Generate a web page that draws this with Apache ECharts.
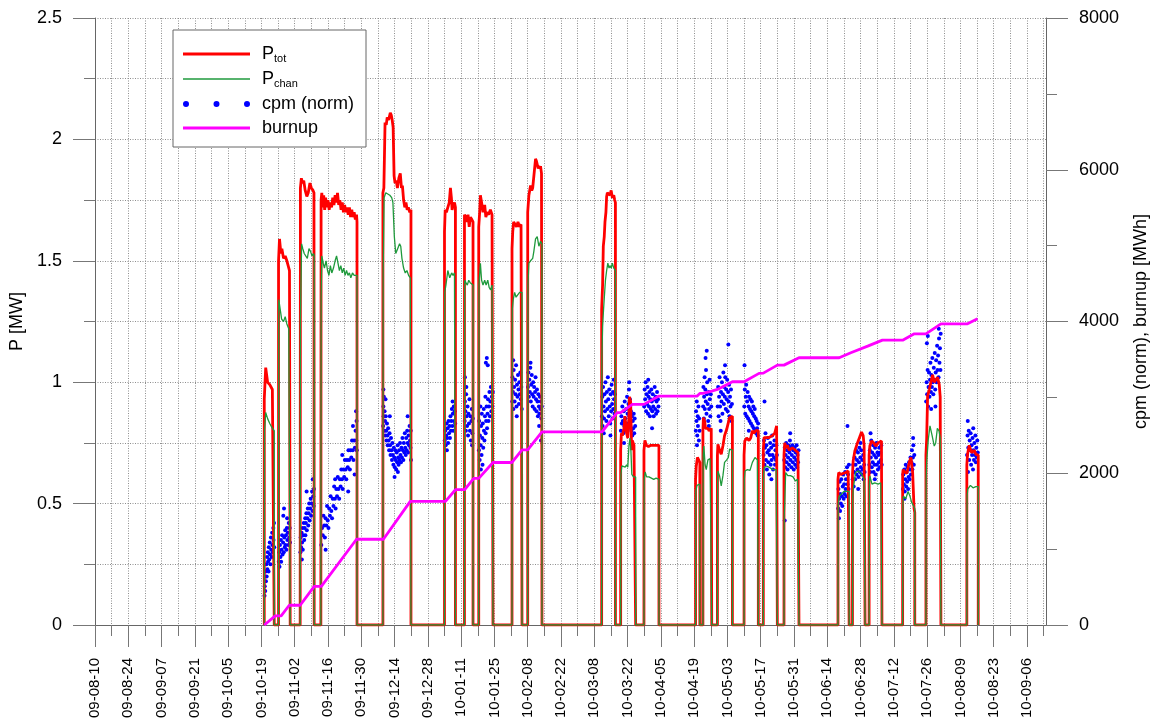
<!DOCTYPE html>
<html>
<head>
<meta charset="utf-8">
<script src="https://cdn.jsdelivr.net/npm/echarts@6/dist/echarts.min.js"></script>
<style>
  html, body { margin: 0; padding: 0; background: #fff; }
  #chart { width: 1151px; height: 726px; }
</style>
</head>
<body>
<div id="chart"></div>
<script>
// x values are days since 09-08-10

var dayLabels = ['09-08-10', '09-08-24', '09-09-07', '09-09-21', '09-10-05', '09-10-19', '09-11-02',
    '09-11-16', '09-11-30', '09-12-14', '09-12-28', '10-01-11', '10-01-25', '10-02-08', '10-02-22',
    '10-03-08', '10-03-22', '10-04-05', '10-04-19', '10-05-03', '10-05-17', '10-05-31', '10-06-14',
    '10-06-28', '10-07-12', '10-07-26', '10-08-09', '10-08-23', '10-09-06'];

// P_tot [MW]
var pTot = [
    [71.2,0],[71.2,0.93],[71.8,1.06],[72.6,1.0],[73.5,0.99],[74.6,0.97],[75.4,0.97],[75.4,0],
    [77.2,0],[77.2,1.5],[77.6,1.59],[78.2,1.53],[78.6,1.55],[79.3,1.51],[80,1.52],[80.7,1.5],[81.3,1.5],[81.8,1.46],[82.1,1.46],[82.1,0],
    [86.3,0],[86.4,1.80],[86.8,1.84],[87.3,1.82],[87.8,1.83],[88.4,1.79],[89.1,1.765],[89.7,1.78],[90.4,1.82],[91,1.80],[91.7,1.79],[92.1,1.78],[92.2,0],
    [95,0],[95.1,1.75],[95.4,1.78],[95.8,1.72],[96.2,1.77],[96.6,1.71],[97,1.76],[97.5,1.72],[98,1.75],[98.5,1.71],[99,1.74],[99.5,1.72],[100,1.76],[100.5,1.73],[101,1.77],[101.5,1.74],[102,1.78],[102.5,1.73],[103,1.75],[103.5,1.71],[104,1.74],[104.5,1.70],[105,1.73],[105.5,1.70],[106,1.72],[106.5,1.69],[107,1.72],[107.5,1.68],[108,1.71],[108.5,1.68],[109,1.70],[109.5,1.67],[110,1.69],[110.2,1.66],[110.2,0],
    [121.1,0],[121.1,1.78],[121.5,1.80],[122,2.07],[122.5,2.06],[122.9,2.09],[123.5,2.08],[124.2,2.11],[124.6,2.10],[125,2.08],[125.4,2.05],[125.8,1.85],[126.2,1.82],[126.7,1.83],[127.2,1.80],[127.8,1.84],[128.4,1.86],[128.9,1.80],[129.3,1.81],[129.8,1.75],[130.3,1.72],[130.8,1.74],[131.3,1.71],[131.8,1.72],[132.4,1.70],[132.9,1.71],[132.9,0],
    [147,0],[147,1.62],[147.3,1.71],[147.8,1.70],[148.4,1.72],[149,1.74],[149.5,1.80],[149.9,1.76],[150.2,1.71],[150.7,1.73],[151.2,1.74],[151.6,1.72],[151.6,0],
    [155.4,0],[155.4,1.69],[155.9,1.68],[156.3,1.66],[156.9,1.69],[157.4,1.64],[157.9,1.68],[158.5,1.67],[159,1.66],[159,0],
    [161.4,0],[161.4,1.64],[161.8,1.70],[162.1,1.77],[162.6,1.74],[163.2,1.70],[163.9,1.73],[164.4,1.68],[164.9,1.70],[165.6,1.69],[166.3,1.71],[167,1.69],[167.4,1.69],[167.4,0],
    [175.4,0],[175.4,1.55],[175.7,1.62],[176.1,1.66],[176.7,1.65],[177.3,1.64],[177.9,1.66],[178.5,1.64],[179.2,1.65],[179.6,1.65],[179.6,0],
    [182,0],[182,1.70],[182.5,1.77],[183.2,1.81],[183.7,1.79],[184.1,1.80],[184.6,1.85],[185.3,1.92],[185.7,1.91],[186,1.91],[186.4,1.88],[186.7,1.89],[187.1,1.88],[187.4,1.89],[187.8,1.86],[188,1.86],[188,0],
    [213.1,0],[213.1,1.30],[213.5,1.40],[213.8,1.56],[214.2,1.60],[214.5,1.66],[214.9,1.70],[215.2,1.765],[215.5,1.78],[216,1.78],[216.6,1.77],[217.1,1.79],[217.6,1.76],[218.2,1.77],[218.6,1.75],[218.9,1.74],[218.9,0],
    [221.1,0],[221.1,0.72],[221.4,0.79],[221.8,0.78],[222.5,0.81],[222.9,0.86],[223.3,0.82],[223.6,0.79],[224.1,0.77],[224.5,0.84],[224.8,0.94],[225.3,0.92],[225.7,0.72],[226,0.76],[226.7,0.74],[227.4,0.74],[227.4,0],
    [230.9,0],[230.9,0.72],[231.3,0.76],[231.9,0.74],[232.8,0.735],[233.8,0.74],[234.8,0.74],[235.5,0.745],[236.3,0.74],[237.2,0.74],[237.2,0],
    [252.6,0],[252.6,0.60],[252.9,0.655],[253.4,0.69],[253.9,0.68],[254.4,0.67],[254.4,0],
    [255.7,0],[255.7,0.80],[255.9,0.854],[256.4,0.84],[256.8,0.81],[257.1,0.806],[257.8,0.81],[258.3,0.80],[258.7,0.806],[259.2,0.81],[259.4,0.81],[259.4,0],
    [261.8,0],[261.8,0.70],[262,0.744],[262.7,0.72],[263.4,0.703],[264.1,0.737],[264.8,0.78],[265.7,0.806],[266.4,0.81],[266.9,0.854],[267.7,0.86],[268.1,0.86],[268.1,0],
    [273,0],[273,0.70],[273.3,0.758],[274.1,0.77],[275.1,0.76],[275.8,0.77],[276.5,0.80],[277.2,0.79],[277.9,0.80],[278.6,0.80],[279,0.80],[279,0],
    [281.1,0],[281.1,0.72],[281.4,0.772],[282.1,0.78],[283.5,0.772],[284.9,0.78],[285.9,0.79],[286.7,0.82],[287,0.82],[287,0],
    [289.8,0],[289.8,0.70],[290.1,0.75],[290.6,0.73],[291.2,0.74],[292,0.72],[292.6,0.717],[293.3,0.73],[294,0.725],[294.6,0.72],[295.2,0.72],[295.7,0.71],[296.1,0.71],[296.1,0],
    [312.5,0],[312.5,0.60],[312.8,0.628],[313.7,0.62],[314.8,0.625],[315.8,0.628],[316.8,0.634],[317.2,0.63],[317.2,0],
    [318.6,0],[318.6,0.62],[318.9,0.676],[319.6,0.717],[320.7,0.75],[321.2,0.75],[321.8,0.778],[322.4,0.795],[323.1,0.78],[323.5,0.74],[323.9,0.74],[323.9,0],
    [325.6,0],[325.6,0.70],[325.9,0.737],[326.6,0.758],[327.5,0.75],[328.4,0.737],[329.4,0.75],[330.2,0.745],[330.8,0.758],[331,0.758],[331,0],
    [339.7,0],[339.7,0.62],[339.9,0.64],[340.6,0.63],[341.5,0.625],[342.5,0.67],[343.2,0.69],[343.9,0.63],[344.5,0.48],[344.8,0.463],[344.8,0],
    [349.5,0],[349.5,0.70],[349.8,0.765],[350.2,0.943],[350.9,0.97],[351.6,1.0],[352.3,1.03],[353,1.0],[353.7,1.01],[354.4,1.02],[355.1,0.99],[355.5,0.94],[355.8,0.94],[355.8,0],
    [366.7,0],[366.7,0.66],[367,0.703],[367.7,0.74],[368.7,0.71],[369.8,0.72],[370.5,0.703],[371.2,0.70],[371.5,0.70],[371.5,0]
];

// P_chan [MW]
var pChan = [
    [71.2,0],[71.3,0.80],[71.8,0.875],[72.6,0.85],[73.5,0.83],[74.6,0.81],[75.4,0.80],[75.4,0],
    [77.2,0],[77.3,1.34],[77.8,1.34],[78.5,1.26],[79.3,1.25],[80,1.27],[80.7,1.24],[81.5,1.22],[82.1,1.22],[82.1,0],
    [86.3,0],[86.4,1.26],[86.9,1.57],[87.4,1.55],[88,1.53],[88.6,1.535],[89.3,1.51],[90,1.55],[90.6,1.54],[91.3,1.52],[91.9,1.53],[92.2,1.52],[92.2,0],
    [95,0],[95.1,1.35],[95.4,1.52],[96,1.49],[96.5,1.47],[97.2,1.5],[97.8,1.46],[98.4,1.44],[99,1.48],[99.6,1.45],[100.3,1.47],[101,1.50],[101.6,1.52],[102.2,1.49],[102.8,1.46],[103.4,1.48],[104,1.45],[104.6,1.47],[105.2,1.44],[105.8,1.46],[106.4,1.44],[107,1.45],[107.6,1.43],[108.3,1.45],[109,1.44],[109.6,1.44],[110.2,1.44],[110.2,0],
    [121.1,0],[121.2,1.45],[121.6,1.76],[122.3,1.78],[123,1.78],[124,1.77],[124.8,1.76],[125.3,1.74],[125.9,1.60],[126.5,1.53],[127.3,1.55],[128.1,1.57],[128.6,1.56],[129.1,1.51],[129.8,1.47],[130.5,1.45],[131.2,1.46],[131.9,1.44],[132.6,1.43],[132.9,1.43],[132.9,0],
    [147,0],[147.1,1.37],[147.6,1.40],[148.4,1.46],[149.2,1.43],[150,1.45],[150.6,1.44],[151.2,1.45],[151.6,1.45],[151.6,0],
    [155.4,0],[155.5,1.42],[156,1.41],[156.6,1.40],[157.2,1.42],[157.8,1.41],[158.5,1.41],[159,1.40],[159,0],
    [161.4,0],[161.5,1.40],[162.1,1.49],[162.6,1.42],[163.2,1.40],[163.9,1.42],[164.5,1.40],[165.2,1.42],[165.8,1.39],[166.4,1.38],[167,1.40],[167.4,1.40],[167.4,0],
    [175.4,0],[175.5,1.30],[175.9,1.34],[176.5,1.37],[177.1,1.35],[177.8,1.36],[178.6,1.37],[179.6,1.37],[179.6,0],
    [182,0],[182.1,1.40],[182.5,1.49],[183.2,1.50],[184.1,1.51],[184.6,1.54],[185.3,1.59],[186,1.60],[186.7,1.56],[187.4,1.58],[188,1.57],[188,0],
    [213.1,0],[213.2,1.10],[213.5,1.23],[213.9,1.30],[214.3,1.36],[214.7,1.42],[215.2,1.46],[215.7,1.49],[216.2,1.47],[216.6,1.48],[217.1,1.47],[217.6,1.49],[218.2,1.47],[218.9,1.46],[218.9,0],
    [221.1,0],[221.2,0.62],[221.6,0.655],[222.3,0.66],[223,0.65],[223.6,0.66],[224.1,0.65],[224.6,0.74],[225,0.77],[225.4,0.72],[225.8,0.62],[226.5,0.61],[227.4,0.61],[227.4,0],
    [230.9,0],[231,0.60],[231.4,0.63],[232,0.61],[233,0.61],[234,0.605],[235,0.60],[236,0.605],[237.2,0.60],[237.2,0],
    [252.6,0],[252.7,0.55],[253.2,0.575],[254.4,0.58],[254.4,0],
    [255.7,0],[255.8,0.70],[256.1,0.737],[256.6,0.66],[257.1,0.64],[257.8,0.68],[258.7,0.685],[259.4,0.68],[259.4,0],
    [261.8,0],[261.9,0.60],[262,0.634],[262.7,0.614],[263.4,0.573],[264.1,0.614],[264.8,0.67],[265.7,0.68],[266.4,0.69],[266.9,0.724],[267.7,0.72],[268.1,0.72],[268.1,0],
    [273,0],[273.1,0.60],[273.4,0.634],[274.4,0.64],[275.5,0.637],[276.5,0.67],[277.6,0.69],[278.6,0.68],[279,0.68],[279,0],
    [281.1,0],[281.2,0.62],[281.5,0.648],[282.5,0.655],[283.8,0.648],[285.2,0.64],[286.5,0.64],[287,0.64],[287,0],
    [289.8,0],[289.9,0.45],[290.1,0.50],[290.5,0.628],[291.4,0.615],[292.5,0.615],[293.6,0.61],[294.6,0.593],[295.5,0.60],[296.1,0.60],[296.1,0],
    [312.5,0],[312.6,0.50],[313,0.53],[314,0.54],[315,0.55],[316,0.55],[317.2,0.55],[317.2,0],
    [318.6,0],[318.7,0.52],[318.9,0.56],[319.9,0.628],[321.1,0.635],[322.5,0.62],[323.5,0.60],[323.9,0.60],[323.9,0],
    [325.6,0],[325.7,0.58],[325.9,0.614],[326.8,0.58],[328,0.585],[329.4,0.58],[330.5,0.585],[331,0.585],[331,0],
    [339.7,0],[339.8,0.50],[340,0.53],[341,0.52],[342,0.55],[342.8,0.53],[343.5,0.505],[344.3,0.49],[344.8,0.48],[344.8,0],
    [349.5,0],[349.6,0.60],[349.8,0.67],[350.5,0.765],[351.2,0.82],[352.1,0.78],[353,0.737],[353.6,0.75],[354.3,0.81],[355,0.80],[355.5,0.77],[355.8,0.77],[355.8,0],
    [366.7,0],[366.8,0.53],[367.1,0.56],[368.2,0.575],[369.3,0.565],[370.5,0.57],[371.5,0.57],[371.5,0]
];

// cpm (norm), scaled to the power axis
var cpmNorm = [
    [71.3,0.12],[71.4,0.16],[71.5,0.2],[71.6,0.14],[71.8,0.22],[71.9,0.18],[72.1,0.25],[72.2,0.2],[72.4,0.28],[72.5,0.23],[72.7,0.3],[72.8,0.26],[73,0.22],[73.1,0.32],[73.3,0.27],[73.5,0.34],[73.6,0.29],[73.8,0.25],[74,0.36],[74.1,0.31],[74.3,0.28],[74.5,0.38],[74.6,0.33],[74.8,0.3],[75,0.4],[75.1,0.35],[75.3,0.42],[75.4,0.32],
    [77.3,0.26],[77.5,0.3],[77.6,0.24],[77.8,0.33],[78,0.28],[78.2,0.35],[78.3,0.26],[78.5,0.31],[78.7,0.37],[78.9,0.29],[79.1,0.34],[79.2,0.45],[79.4,0.3],[79.6,0.36],[79.8,0.32],[80,0.39],[80.1,0.33],[80.3,0.37],[80.5,0.31],[80.7,0.4],[80.9,0.35],[81.1,0.38],[81.3,0.33],[81.5,0.42],[81.7,0.36],[81.9,0.4],[82,0.34],[79.5,0.48],[80.8,0.44],
    [86.4,0.3],[86.5,0.36],[86.7,0.32],[86.9,0.38],[87.1,0.34],[87.3,0.4],[87.4,0.31],[87.6,0.37],[87.8,0.42],[88,0.35],[88.2,0.4],[88.4,0.44],[88.5,0.37],[88.7,0.42],[88.9,0.46],[89.1,0.39],[89.3,0.44],[89.5,0.48],[89.7,0.41],[89.9,0.46],[90.1,0.5],[90.3,0.43],[90.5,0.48],[90.7,0.52],[90.9,0.45],[91.1,0.5],[91.3,0.55],[91.5,0.47],[91.6,0.6],[91.8,0.53],[92,0.49],[92.1,0.56],[87,0.27],[89,0.55],
    [95.2,0.33],[95.5,0.40],[95.8,0.37],[96.1,0.45],[96.4,0.41],[96.7,0.36],[97,0.44],[97.3,0.41],[97.6,0.49],[97.9,0.43],[98.2,0.40],[98.5,0.48],[98.8,0.45],[99.1,0.53],[99.4,0.47],[99.7,0.44],[100,0.52],[100.3,0.49],[100.6,0.57],[100.9,0.52],[101.2,0.48],[101.5,0.56],[101.8,0.53],[102.1,0.61],[102.4,0.56],[102.7,0.52],[103,0.60],[103.3,0.57],[103.6,0.64],[103.9,0.60],[104.2,0.56],[104.5,0.64],[104.8,0.61],[105.1,0.68],[105.4,0.64],[105.7,0.60],[106,0.68],[106.3,0.65],[106.6,0.72],[106.9,0.68],[107.2,0.64],[107.5,0.72],[107.8,0.69],[108.1,0.76],[108.4,0.72],[108.7,0.68],[109,0.76],[109.3,0.73],[109.6,0.80],[109.9,0.76],[110.1,0.72],
    [97,0.31],[101,0.6],[104,0.7],[106.5,0.55],[108.5,0.82],[109.8,0.88],[110,0.84],[109.2,0.62],
    [121.2,0.82],[121.3,0.9],[121.4,0.86],[121.5,0.94],[121.7,0.8],[121.8,0.88],[122,0.84],[122.1,0.78],[122.3,0.86],[122.5,0.8],[122.6,0.76],[122.8,0.83],[123,0.78],[123.1,0.74],[123.3,0.81],[123.5,0.76],[123.7,0.72],[123.9,0.79],[124.1,0.74],[124.3,0.7],[124.5,0.77],[124.7,0.72],[124.9,0.68],[125.1,0.75],[125.3,0.7],[125.5,0.66],[125.7,0.73],[125.9,0.69],[126.1,0.65],[126.3,0.72],[126.5,0.68],[126.7,0.64],[126.9,0.71],[127.1,0.67],[127.3,0.74],[127.5,0.69],[127.7,0.66],[127.9,0.72],[128.1,0.68],[128.3,0.75],[128.5,0.7],[128.7,0.67],[128.9,0.73],[129.1,0.69],[129.3,0.77],[129.5,0.72],[129.7,0.68],[129.9,0.75],[130.1,0.71],[130.3,0.79],[130.5,0.73],[130.7,0.7],[130.9,0.77],[131.1,0.72],[131.3,0.8],[131.5,0.75],[131.7,0.71],[131.9,0.78],[132.1,0.74],[132.3,0.82],[132.5,0.76],[132.7,0.73],[132.8,0.8],
    [121.3,0.97],[122.2,0.93],[124,0.86],[126,0.61],[127.4,0.63],[131.5,0.86],[132.9,0.68],
    [147.1,0.76],[147.3,0.8],[147.5,0.74],[147.7,0.78],[147.9,0.83],[148.1,0.77],[148.3,0.81],[148.5,0.75],[148.7,0.84],[148.9,0.79],[149.1,0.82],[149.3,0.77],[149.5,0.86],[149.7,0.8],[149.9,0.84],[150.1,0.89],[150.3,0.82],[150.5,0.87],[150.7,0.8],[150.9,0.9],[151.1,0.84],[151.3,0.88],[151.5,0.83],[150.4,0.92],[148,0.72],
    [155.5,0.84],[155.6,0.92],[155.8,0.88],[156,0.8],[156.1,0.95],[156.3,0.86],[156.5,0.82],[156.7,0.9],[156.9,0.78],[157.1,0.87],[157.3,0.83],[157.5,0.93],[157.7,0.8],[157.9,0.86],[158.1,0.76],[158.3,0.84],[158.5,0.89],[158.7,0.79],[158.9,0.85],[155.6,1.02],[156.2,0.98],[158.6,0.74],
    [161.5,0.72],[161.6,0.84],[161.8,0.68],[161.9,0.78],[162.1,0.9],[162.2,0.74],[162.4,0.82],[162.6,0.7],[162.7,0.87],[162.9,0.77],[163.1,0.83],[163.3,0.73],[163.5,0.89],[163.6,0.8],[163.8,0.76],[164,0.86],[164.2,0.94],[164.3,0.79],[164.5,0.84],[164.7,0.9],[164.9,0.81],[165.1,0.87],[165.3,0.93],[165.5,0.84],[165.7,0.9],[165.9,0.96],[166.1,0.86],[166.3,0.92],[166.5,0.98],[166.7,0.88],[166.9,0.94],[167.1,0.9],[167.3,0.96],[164.4,1.08],[164.8,1.1],[165.2,1.07],[162.3,0.64],[163,0.66],
    [175.5,0.92],[175.6,1.02],[175.8,0.96],[176,0.89],[176.1,1.05],[176.3,0.98],[176.5,0.92],[176.7,1.01],[176.9,0.95],[177.1,1.07],[177.3,0.9],[177.5,0.99],[177.7,0.94],[177.9,1.03],[178.1,0.97],[178.3,0.91],[178.5,1.0],[178.7,0.95],[178.9,1.04],[179.1,0.93],[179.3,0.98],[179.5,0.89],[175.9,1.09],[177.4,0.86],
    [182.1,0.98],[182.3,1.04],[182.5,0.94],[182.7,1.01],[182.9,0.96],[183.1,1.06],[183.3,0.92],[183.5,0.99],[183.7,1.03],[183.9,0.95],[184.1,0.9],[184.3,1.0],[184.5,0.94],[184.7,0.98],[184.9,0.89],[185.1,0.96],[185.3,1.02],[185.5,0.93],[185.7,0.88],[185.9,0.97],[186.1,0.92],[186.3,0.86],[186.5,0.95],[186.7,0.9],[186.9,0.87],[187.1,0.94],[187.3,0.89],[187.5,0.92],[187.7,0.85],[187.9,0.9],[187.6,0.76],[186.8,0.82],[183.2,1.08],
    [213.2,0.86],[213.4,0.94],[213.5,0.82],[213.7,0.98],[213.9,0.9],[214.1,0.85],[214.3,0.95],[214.5,0.88],[214.7,1.0],[214.9,0.92],[215.1,0.84],[215.3,0.96],[215.5,0.89],[215.7,1.02],[215.9,0.93],[216.1,0.86],[216.3,0.97],[216.5,0.9],[216.7,0.83],[216.9,0.95],[217.1,0.88],[217.3,0.99],[217.5,0.91],[217.7,0.85],[217.9,0.96],[218.1,0.89],[218.3,0.93],[218.5,0.87],[218.7,0.95],[214,0.79],[216.8,0.78],[218.2,1.01],
    [221.2,0.8],[221.4,0.86],[221.6,0.83],[221.8,0.9],[222,0.84],[222.2,0.79],[222.4,0.88],[222.6,0.82],[222.8,0.92],[223,0.85],[223.2,0.8],[223.4,0.89],[223.6,0.83],[223.8,0.94],[224,0.87],[224.2,0.81],[224.4,0.91],[224.6,0.97],[224.8,0.86],[225,0.93],[225.2,0.82],[225.4,0.88],[225.6,0.8],[225.8,0.86],[226,0.78],[226.2,0.84],[226.4,0.81],[226.6,0.87],[226.8,0.79],[227,0.85],[227.2,0.82],[224.7,1.0],[222.5,0.75],
    [231,0.9],[231.2,0.97],[231.4,0.93],[231.6,1.0],[231.8,0.88],[232,0.95],[232.2,0.91],[232.4,0.98],[232.6,0.87],[232.8,0.94],[233,0.9],[233.2,0.96],[233.4,0.86],[233.6,0.93],[233.8,0.89],[234,0.97],[234.2,0.92],[234.4,0.88],[234.6,0.95],[234.8,0.9],[235,0.86],[235.2,0.93],[235.4,0.98],[235.6,0.89],[235.8,0.94],[236,0.87],[236.2,0.92],[236.4,0.96],[236.6,0.88],[236.8,0.93],[237,0.9],[234.3,0.81],[232.7,1.01],
    [252.7,0.8],[252.8,0.88],[253,0.84],[253.1,0.92],[253.3,0.78],[253.5,0.86],[253.6,0.82],[253.8,0.9],[254,0.76],[254.1,0.85],[254.3,0.8],[253.2,0.74],
    [255.8,0.9],[255.9,0.98],[256.1,0.85],[256.2,0.94],[256.4,1.02],[256.5,0.89],[256.7,0.97],[256.9,0.92],[257,1.05],[257.2,0.87],[257.4,0.95],[257.5,1.0],[257.7,0.91],[257.9,0.84],[258.1,0.96],[258.3,0.89],[258.5,1.01],[258.6,0.93],[258.8,0.86],[259,0.95],[259.2,0.9],[256.8,1.1],[257.3,1.13],[258.2,0.82],
    [261.9,0.9],[262.1,0.98],[262.3,0.86],[262.5,0.94],[262.7,1.02],[262.9,0.9],[263.1,0.84],[263.3,0.96],[263.5,0.92],[263.7,1.0],[263.9,0.87],[264.1,0.95],[264.3,1.04],[264.5,0.91],[264.7,0.98],[264.9,0.94],[265.1,1.02],[265.3,0.89],[265.5,0.97],[265.7,0.93],[265.9,1.01],[266.1,0.88],[266.3,0.96],[266.5,0.92],[266.7,0.99],[266.9,0.86],[267.1,0.94],[267.3,0.9],[267.5,0.97],[267.7,0.84],[267.9,0.91],[266.4,1.155],[263.2,0.8],[265,1.07],
    [273.1,0.9],[273.3,0.97],[273.5,0.87],[273.7,0.94],[273.9,0.99],[274.1,0.86],[274.3,0.92],[274.5,0.96],[274.7,0.85],[274.9,0.9],[275.1,0.94],[275.3,0.84],[275.5,0.89],[275.7,0.93],[275.9,0.83],[276.1,0.88],[276.3,0.92],[276.5,0.82],[276.7,0.87],[276.9,0.9],[277.1,0.81],[277.3,0.86],[277.5,0.89],[277.7,0.8],[277.9,0.85],[278.1,0.79],[278.3,0.84],[278.5,0.81],[278.7,0.78],[278.9,0.83],[273.2,1.07],[275,0.8],
    [281.2,0.7],[281.4,0.76],[281.6,0.66],[281.8,0.73],[282,0.79],[282.2,0.68],[282.4,0.74],[282.6,0.64],[282.8,0.71],[283,0.77],[283.2,0.67],[283.4,0.72],[283.6,0.62],[283.8,0.7],[284,0.75],[284.2,0.66],[284.4,0.73],[284.6,0.68],[284.8,0.78],[285,0.7],[285.2,0.64],[285.4,0.74],[285.6,0.69],[285.8,0.76],[286,0.66],[286.2,0.72],[286.4,0.68],[286.6,0.74],[286.8,0.7],[281.6,0.92],[284.5,0.6],
    [289.9,0.68],[290.1,0.73],[290.3,0.65],[290.5,0.7],[290.7,0.75],[290.9,0.67],[291.1,0.72],[291.3,0.64],[291.5,0.69],[291.7,0.74],[291.9,0.66],[292.1,0.71],[292.3,0.76],[292.5,0.68],[292.7,0.73],[292.9,0.65],[293.1,0.7],[293.3,0.74],[293.5,0.67],[293.7,0.72],[293.9,0.64],[294.1,0.69],[294.3,0.73],[294.5,0.66],[294.7,0.71],[294.9,0.68],[295.1,0.74],[295.3,0.65],[295.5,0.7],[295.7,0.67],[295.9,0.72],[290.1,0.43],[292.4,0.79],
    [312.6,0.48],[312.7,0.56],[312.9,0.44],[313,0.52],[313.2,0.59],[313.4,0.47],[313.5,0.54],[313.7,0.5],[313.9,0.6],[314.1,0.53],[314.3,0.49],[314.5,0.57],[314.7,0.62],[314.9,0.52],[315.1,0.58],[315.3,0.54],[315.5,0.63],[315.7,0.56],[315.9,0.6],[316.1,0.53],[316.3,0.65],[316.5,0.58],[316.7,0.62],[316.9,0.56],[317.1,0.66],[316.5,0.82],
    [318.7,0.6],[318.9,0.66],[319.1,0.57],[319.3,0.63],[319.5,0.69],[319.7,0.6],[319.9,0.66],[320.1,0.72],[320.3,0.62],[320.5,0.68],[320.7,0.64],[320.9,0.71],[321.1,0.61],[321.3,0.67],[321.5,0.73],[321.7,0.63],[321.9,0.69],[322.1,0.65],[322.3,0.72],[322.5,0.62],[322.7,0.68],[322.9,0.64],[323.1,0.7],[323.3,0.6],[323.5,0.66],[323.7,0.63],[321,0.56],[322,0.75],
    [325.7,0.66],[325.9,0.72],[326.1,0.63],[326.3,0.69],[326.5,0.76],[326.7,0.65],[326.9,0.71],[327.1,0.67],[327.3,0.74],[327.5,0.63],[327.7,0.7],[327.9,0.66],[328.1,0.73],[328.3,0.62],[328.5,0.69],[328.7,0.75],[328.9,0.66],[329.1,0.71],[329.3,0.64],[329.5,0.7],[329.7,0.67],[329.9,0.73],[330.1,0.65],[330.3,0.71],[330.5,0.68],[330.7,0.74],[330.9,0.66],[326.2,0.79],[328,0.6],
    [339.8,0.56],[340,0.62],[340.2,0.58],[340.4,0.64],[340.6,0.55],[340.8,0.6],[341,0.66],[341.2,0.57],[341.4,0.63],[341.6,0.59],[341.8,0.65],[342,0.56],[342.2,0.61],[342.4,0.67],[342.6,0.6],[342.8,0.64],[343,0.69],[343.2,0.62],[343.4,0.67],[343.6,0.72],[343.8,0.64],[344,0.69],[344.2,0.74],[344.4,0.66],[344.6,0.7],[344.1,0.77],[340.5,0.52],
    [349.6,0.92],[349.8,1.0],[350,0.95],[350.2,1.05],[350.4,0.9],[350.6,0.98],[350.8,1.04],[351,0.94],[351.2,1.01],[351.4,1.08],[351.6,0.96],[351.8,1.03],[352,0.98],[352.2,1.1],[352.4,1.0],[352.6,0.95],[352.8,1.06],[353,1.01],[353.2,1.12],[353.4,0.97],[353.6,1.04],[353.8,1.09],[354,1.0],[354.2,1.15],[354.4,1.05],[354.6,1.11],[354.8,1.02],[355,1.18],[355.2,1.08],[355.4,1.14],[355.6,1.05],[355.7,1.2],[349.9,1.16],[350.3,1.19],[354.9,1.22],[353.5,0.9],[351.7,0.89],
    [366.8,0.7],[367,0.78],[367.1,0.84],[367.3,0.73],[367.5,0.8],[367.7,0.68],[367.9,0.76],[368.1,0.72],[368.3,0.79],[368.5,0.66],[368.7,0.74],[368.9,0.7],[369.1,0.77],[369.3,0.64],[369.5,0.72],[369.7,0.68],[369.9,0.75],[370.1,0.7],[370.3,0.78],[370.5,0.67],[370.7,0.73],[370.9,0.69],[371.1,0.76],[371.3,0.71],[367.2,0.63],[369.4,0.81]
];

// burnup [MWh]
var burnup = [
    [71.2,0],[75.8,120],[78.3,120],[81.7,260],[86.3,260],[92.2,510],[95.2,510],[110,1130],[121.3,1130],
    [132.6,1630],[147.4,1630],[151.6,1783],[155.5,1783],[159.3,1932],[161.4,1932],[167.4,2142],[175.4,2142],
    [179.6,2309],[182,2309],[188,2546],[213.3,2546],[219.6,2798],[221.1,2798],[226,2908],[230.9,2908],
    [237.2,3017],[253.3,3017],[254.4,3053],[255.7,3053],[259.4,3083],[261.8,3105],[268.1,3206],[273,3206],
    [279.3,3316],[281.1,3320],[287,3425],[289.8,3425],[296.1,3522],[313,3522],[317.9,3588],[318.6,3588],
    [325,3675],[325.6,3675],[331.2,3754],[339.7,3754],[344.6,3838],[349.5,3838],[355.8,3969],[367,3969],[371.2,4035]
];

var labelDays = dayLabels.map(function (s, i) { return i * 14; });
var weekDays = [];
for (var d = 0; d < 400; d += 7) weekDays.push(d);

var font = "'Liberation Sans', Arial, sans-serif";
var gridLine = { show: true, lineStyle: { color: '#8e8e8e', type: [1, 1.5], width: 1 } };
var noBorder = { borderWidth: 0 };

var myChart = echarts.init(document.getElementById('chart'));

var option = {
    backgroundColor: '#fff',
    animation: false,
    textStyle: { fontFamily: font },
    grid: { left: 95, right: 105, top: 18, bottom: 101, outerBoundsMode: 'none', containLabel: false },
    legend: {
        orient: 'vertical',
        left: 173,
        top: 30,
        padding: [15, 12, 10, 10],
        itemGap: 6,
        itemWidth: 67,
        itemHeight: 14,
        symbolKeepAspect: true,
        backgroundColor: '#fff',
        borderColor: '#666',
        borderWidth: 1,
        borderRadius: 0,
        data: [
            { name: 'Ptot', icon: 'path://M0,0h67v2.8h-67z', itemStyle: noBorder },
            { name: 'Pchan', icon: 'path://M0,0h67v1.4h-67z', itemStyle: noBorder },
            { name: 'cpm (norm)', icon: 'path://M0,3a3,3 0 1,0 6,0a3,3 0 1,0 -6,0z M30.5,3a3,3 0 1,0 6,0a3,3 0 1,0 -6,0z M61,3a3,3 0 1,0 6,0a3,3 0 1,0 -6,0z', itemStyle: noBorder },
            { name: 'burnup', icon: 'path://M0,0h67v2.8h-67z', itemStyle: noBorder }
        ],
        formatter: function (name) {
            if (name === 'Ptot') return '{m|P}{s|tot}';
            if (name === 'Pchan') return '{m|P}{s|chan}';
            return '{m|' + name + '}';
        },
        textStyle: {
            color: '#000',
            fontFamily: font,
            padding: [0, 0, 0, 7],
            rich: {
                m: { fontSize: 18, lineHeight: 20, color: '#000', fontFamily: font },
                s: { fontSize: 11, lineHeight: 9, verticalAlign: 'bottom', color: '#000', fontFamily: font }
            }
        }
    },
    xAxis: [
        {
            type: 'value', min: 0, max: 400, interval: 7, position: 'bottom',
            axisLine: { onZero: false, lineStyle: { color: '#666' } },
            axisTick: { show: true, length: 11, customValues: weekDays, lineStyle: { color: '#777' } },
            axisLabel: { show: false },
            splitLine: gridLine
        },
        {
            type: 'value', min: 0, max: 400, interval: 14, position: 'bottom', offset: 0,
            axisLine: { show: false, onZero: false },
            axisTick: { show: true, length: 22, customValues: labelDays, lineStyle: { color: '#777' } },
            axisLabel: {
                customValues: labelDays,
                rotate: 90,
                margin: 33,
                fontSize: 15,
                color: '#000',
                fontFamily: font,
                formatter: function (v) { return dayLabels[Math.round(v / 14)] || ''; }
            },
            splitLine: { show: false }
        }
    ],
    yAxis: [
        {
            type: 'value', min: 0, max: 2.5, interval: 0.5, position: 'left',
            name: 'P [MW]', nameLocation: 'middle', nameGap: 50, nameRotate: 90,
            nameTextStyle: { fontSize: 18, color: '#000', fontFamily: font },
            axisLine: { show: true, onZero: false, lineStyle: { color: '#666' } },
            axisTick: { show: true, inside: false, length: 22, lineStyle: { color: '#777' } },
            minorTick: { show: true, splitNumber: 2, length: 11, lineStyle: { color: '#777' } },
            axisLabel: { fontSize: 18, margin: 33, color: '#000', fontFamily: font },
            splitLine: gridLine,
            minorSplitLine: gridLine
        },
        {
            type: 'value', min: 0, max: 8000, interval: 2000, position: 'right',
            name: 'cpm (norm), burnup [MWh]', nameLocation: 'middle', nameGap: 86, nameRotate: 90,
            nameTextStyle: { fontSize: 18, color: '#000', fontFamily: font },
            axisLine: { show: true, onZero: false, lineStyle: { color: '#666' } },
            axisTick: { show: true, inside: false, length: 22, lineStyle: { color: '#777' } },
            minorTick: { show: true, splitNumber: 2, length: 11, lineStyle: { color: '#777' } },
            axisLabel: {
                fontSize: 18, margin: 33, color: '#000', fontFamily: font,
                formatter: function (v) { return String(v); }
            },
            splitLine: { show: false }
        }
    ],
    series: [
        {
            name: 'Ptot', type: 'line', xAxisIndex: 0, yAxisIndex: 0,
            data: pTot, symbol: 'none',
            lineStyle: { color: '#ff0000', width: 2.8 },
            itemStyle: { color: '#ff0000' }
        },
        {
            name: 'Pchan', type: 'line', xAxisIndex: 0, yAxisIndex: 0,
            data: pChan, symbol: 'none',
            lineStyle: { color: '#1f9a3c', width: 1.3 },
            itemStyle: { color: '#1f9a3c' }
        },
        {
            name: 'cpm (norm)', type: 'scatter', xAxisIndex: 0, yAxisIndex: 0,
            data: cpmNorm, symbol: 'circle', symbolSize: 4,
            itemStyle: { color: '#0000ff', opacity: 1 }
        },
        {
            name: 'burnup', type: 'line', xAxisIndex: 0, yAxisIndex: 1,
            data: burnup, symbol: 'none',
            lineStyle: { color: '#ff00ff', width: 2.8 },
            itemStyle: { color: '#ff00ff' }
        }
    ]
};

myChart.setOption(option);
</script>
</body>
</html>
